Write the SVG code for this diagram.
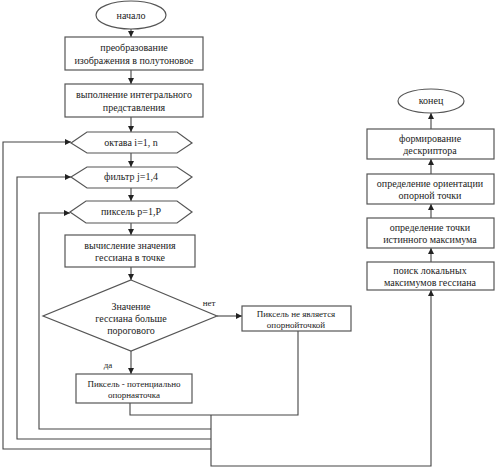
<svg xmlns="http://www.w3.org/2000/svg" width="497" height="468" viewBox="0 0 497 468">
<style>
.s{fill:#fff;stroke:#555;stroke-width:1.2}
.c{fill:none;stroke:#444;stroke-width:1.1}
text{font-family:'Liberation Serif','DejaVu Serif',serif;font-size:10px;fill:#222;text-anchor:middle}
.sm{font-size:9px}
</style>
<defs>
<marker id="a" viewBox="0 0 8 8" refX="8" refY="4" markerWidth="6" markerHeight="6" orient="auto" markerUnits="userSpaceOnUse">
<path d="M0,0 L8,4 L0,8 z" fill="#222"/>
</marker>
</defs>
<rect width="497" height="468" fill="#fff"/>
<g id="connectors">
<line class="c" x1="131" y1="29" x2="131" y2="37" marker-end="url(#a)"/>
<line class="c" x1="131" y1="70" x2="131" y2="84" marker-end="url(#a)"/>
<line class="c" x1="131" y1="117" x2="131" y2="132" marker-end="url(#a)"/>
<line class="c" x1="131" y1="153" x2="131" y2="167" marker-end="url(#a)"/>
<line class="c" x1="131" y1="188" x2="131" y2="201" marker-end="url(#a)"/>
<line class="c" x1="131" y1="223" x2="131" y2="235" marker-end="url(#a)"/>
<line class="c" x1="131" y1="267" x2="131" y2="280" marker-end="url(#a)"/>
<line class="c" x1="131" y1="351" x2="131" y2="374" marker-end="url(#a)"/>
<text x="108" y="368" class="sm" font-family="Liberation Serif, serif">да</text>
<line class="c" x1="217" y1="316" x2="242" y2="316" marker-end="url(#a)"/>
<text x="209" y="306" class="sm" font-family="Liberation Serif, serif">нет</text>
<polyline class="c" points="130,403 130,415 298,415 298,331"/>
<polyline class="c" points="211,415 211,466 431,466 431,290" marker-end="url(#a)"/>
<polyline class="c" points="211,429 39,429 39,213 70,213" marker-end="url(#a)"/>
<polyline class="c" points="211,439 17,439 17,177 71,177" marker-end="url(#a)"/>
<polyline class="c" points="211,449 3,449 3,142 71,142" marker-end="url(#a)"/>
<line class="c" x1="431" y1="262" x2="431" y2="248" marker-end="url(#a)"/>
<line class="c" x1="431" y1="218" x2="431" y2="204" marker-end="url(#a)"/>
<line class="c" x1="431" y1="174" x2="431" y2="159" marker-end="url(#a)"/>
<line class="c" x1="431" y1="129" x2="431" y2="113" marker-end="url(#a)"/>
</g>
<g id="start">
<ellipse class="s" cx="131" cy="15" rx="35" ry="14"/>
<text x="131" y="19">начало</text>
</g>
<g id="gray">
<rect class="s" x="65" y="37" width="138" height="33"/>
<text x="134" y="51">преобразование</text>
<text x="134" y="64">изображения в полутоновое</text>
</g>
<g id="integral">
<rect class="s" x="65" y="84" width="138" height="33"/>
<text x="134" y="98">выполнение интегрального</text>
<text x="134" y="111">представления</text>
</g>
<g id="octave">
<polygon class="s" points="71,143 87,132 177,132 192,143 177,153 87,153"/>
<text x="131" y="146">октава i=1, n</text>
</g>
<g id="filter">
<polygon class="s" points="71,177 87,167 177,167 192,177 177,188 87,188"/>
<text x="131" y="180">фильтр j=1,4</text>
</g>
<g id="pixel">
<polygon class="s" points="70,212 86,201 177,201 192,212 177,223 86,223"/>
<text x="131" y="215">пиксель p=1,P</text>
</g>
<g id="hessian">
<rect class="s" x="65" y="235" width="130" height="32"/>
<text x="130" y="249">вычисление значения</text>
<text x="130" y="261">гессиана в точке</text>
</g>
<g id="decision">
<polygon class="s" points="131,280 217,316 131,351 43,316"/>
<text x="131" y="310">Значение</text>
<text x="131" y="322">гессиана больше</text>
<text x="131" y="334">порогового</text>
</g>
<g id="notkey">
<rect class="s" x="242" y="306" width="109" height="25"/>
<text x="296" y="317" class="sm">Пиксель не является</text>
<text x="296" y="328" class="sm">опорнойточкой</text>
</g>
<g id="potential">
<rect class="s" x="76" y="374" width="116" height="29"/>
<text x="134" y="387" class="sm">Пиксель - потенциально</text>
<text x="134" y="398" class="sm">опорнаяточка</text>
</g>
<g id="localmax">
<rect class="s" x="367" y="262" width="127" height="28"/>
<text x="430" y="274">поиск локальных</text>
<text x="430" y="286">максимумов гессиана</text>
</g>
<g id="truemax">
<rect class="s" x="367" y="218" width="127" height="30"/>
<text x="430" y="231">определение точки</text>
<text x="430" y="243">истинного максимума</text>
</g>
<g id="orient">
<rect class="s" x="367" y="174" width="127" height="30"/>
<text x="430" y="187">определение ориентации</text>
<text x="430" y="199">опорной точки</text>
</g>
<g id="descr">
<rect class="s" x="367" y="129" width="127" height="30"/>
<text x="430" y="142">формирование</text>
<text x="430" y="154">дескриптора</text>
</g>
<g id="end">
<ellipse class="s" cx="431" cy="101" rx="33" ry="12"/>
<text x="431" y="104">конец</text>
</g>
</svg>
